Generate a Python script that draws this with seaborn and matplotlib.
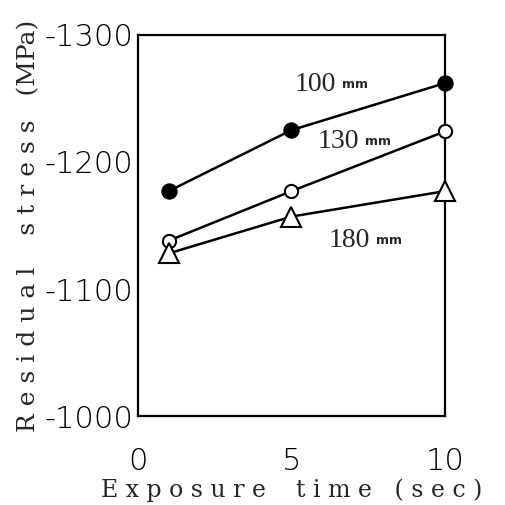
import pandas as pd
import matplotlib
matplotlib.use('Agg')
import matplotlib.pyplot as plt
import seaborn as sns

# values
exposure = [1, 5, 10]
stress_100 = [-1177, -1225, -1262]
stress_130 = [-1138, -1177, -1224]
stress_180 = [-1128, -1157, -1177]
y_ticks = [-1000, -1100, -1200, -1300]
x_ticks = [0, 5, 10]

sns.set_theme(style='white')
plt.rcParams['font.family'] = ['DejaVu Sans']

fig = plt.figure(figsize=(5.05, 5.05), dpi=100)
ax = fig.add_axes([0.273, 0.176, 0.608, 0.755])

series = [
    (stress_100, dict(marker='o', markersize=11, markerfacecolor='black', markeredgecolor='black')),
    (stress_130, dict(marker='o', markersize=9.5, markerfacecolor='white', markeredgecolor='black', markeredgewidth=1.5)),
    (stress_180, dict(marker='^', markersize=15, markerfacecolor='white', markeredgecolor='black', markeredgewidth=1.5)),
]
for values, style in series:
    sns.lineplot(x=exposure, y=values, ax=ax, color='black', linewidth=1.8, clip_on=False, zorder=5, **style)

ax.set_xlim(0, 10)
ax.set_ylim(-1000, -1300)
ax.set_xticks(x_ticks)
ax.set_xticklabels([str(t) for t in x_ticks])
ax.set_yticks(y_ticks)
ax.set_yticklabels(['-1000', '-1100', '-1200', '-1300'])
ax.tick_params(axis='both', direction='in', length=6, width=1, colors='black', labelsize=22, pad=3)
ax.tick_params(axis='x', pad=22)
for tl in ax.get_xticklabels() + ax.get_yticklabels():
    tl.set_fontweight('light')

for side in ['top', 'bottom', 'left', 'right']:
    ax.spines[side].set_color('black')
    ax.spines[side].set_linewidth(1.6)

ax.set_xlabel('E x p o s u r e    t i m e   ( s e c )', fontsize=17, family='DejaVu Serif', va='center')
ax.xaxis.set_label_coords(0.50, -0.195)
ax.set_ylabel('R e s i d u a l    s t r e s s   (MPa)', fontsize=18, family='DejaVu Serif', va='center')
ax.yaxis.set_label_coords(-0.355, 0.50)

for txt, xx, yy in [('100', 5.1, -1261), ('130', 5.86, -1216), ('180', 6.2, -1138)]:
    ax.text(xx, yy, txt, fontsize=20, family='Liberation Serif', va='center', ha='left')
    ax.text(xx + 1.55, yy, 'mm', fontsize=9, family='DejaVu Sans', fontweight='bold', va='center', ha='left')

fig.savefig('out.png', dpi=100, facecolor='white')
